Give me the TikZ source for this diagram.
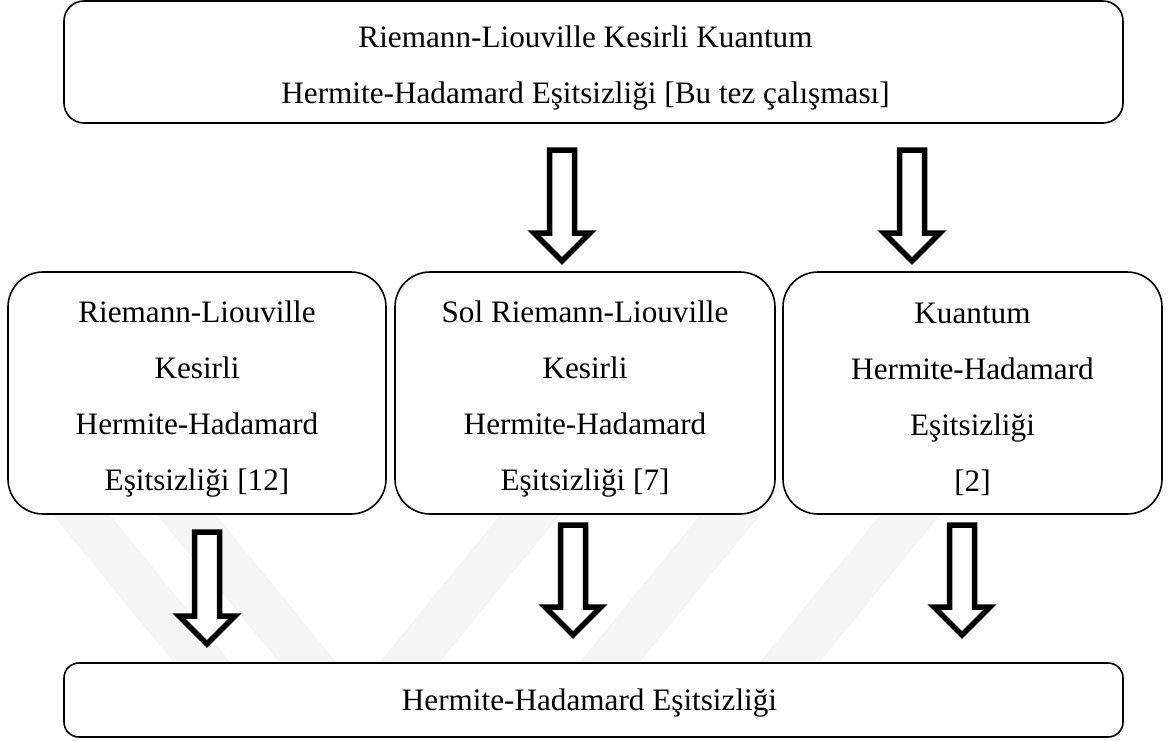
\documentclass[tikz,border=0pt]{standalone}
\usepackage{fontspec}
\setmainfont{Liberation Serif}
\tikzset{
  box/.style={draw=black, line width=1.6pt, fill=white, inner sep=0pt},
  txt/.style={align=center, font=\fontsize{31.2}{56}\selectfont, inner sep=0pt},
  blockarr/.style={draw=black, line width=5.5pt, fill=white, line join=miter},
  wm/.style={fill=black!4, draw=none}
}
\newcommand{\blockarrow}[4]{% name, x, ytop, ytip
  \coordinate (#1) at (#2,#3);
  \draw[blockarr] (#2-12.5,#3) -- (#2+12.5,#3) -- (#2+12.5,#4-28) -- (#2+28,#4-28)
     -- (#2,#4) -- (#2-28,#4-28) -- (#2-12.5,#4-28) -- cycle;
}
\begin{document}
\begin{tikzpicture}[x=1pt,y=-1pt]
\useasboundingbox (0,0) rectangle (1171,740);
% faint watermark
\begin{scope}
\clip (0,505) rectangle (1171,740);
\fill[wm] (53,515) -- (110,515) -- (231,663) -- (174,663) -- cycle;
\fill[wm] (157,515) -- (216,515) -- (337,663) -- (280,663) -- cycle;
\fill[wm] (500,515) -- (560,515) -- (439,663) -- (379,663) -- cycle;
\fill[wm] (700,515) -- (760,515) -- (639,663) -- (579,663) -- cycle;
\fill[wm] (880,515) -- (940,515) -- (819,663) -- (759,663) -- cycle;
\end{scope}
% boxes
\node[box, rounded corners=20pt, minimum width=1059pt, minimum height=122pt] (top) at (593.5,62) {};
\node[box, rounded corners=35pt, minimum width=378pt, minimum height=242pt] (left) at (197,393) {};
\node[box, rounded corners=35pt, minimum width=380pt, minimum height=242pt] (mid) at (585,393) {};
\node[box, rounded corners=35pt, minimum width=379pt, minimum height=242pt] (right) at (972.5,393) {};
\node[box, rounded corners=15pt, minimum width=1059pt, minimum height=74pt] (bottom) at (593.5,700) {};
% texts
\node[txt] (topt) at ([xshift=-8pt,yshift=-6pt]top.center) {Riemann-Liouville Kesirli Kuantum\\Hermite-Hadamard Eşitsizliği [Bu tez çalışması]};
\node[txt] (leftt) at ([yshift=-6.5pt]left.center) {Riemann-Liouville\\Kesirli\\Hermite-Hadamard\\Eşitsizliği [12]};
\node[txt] (midt) at ([yshift=-6.5pt]mid.center) {Sol Riemann-Liouville\\Kesirli\\Hermite-Hadamard\\Eşitsizliği [7]};
\node[txt] (rightt) at ([yshift=-6.5pt]right.center) {Kuantum\\Hermite-Hadamard\\Eşitsizliği\\{[2]}};
\node[txt] (bottomt) at ([xshift=-4pt,yshift=-3pt]bottom.center) {Hermite-Hadamard Eşitsizliği};
% block arrows
\blockarrow{a1}{562}{150}{261}
\blockarrow{a2}{912}{150}{261}
\blockarrow{a3}{207}{532}{644}
\blockarrow{a4}{573}{525}{635}
\blockarrow{a5}{962}{525}{635}
\end{tikzpicture}
\end{document}
